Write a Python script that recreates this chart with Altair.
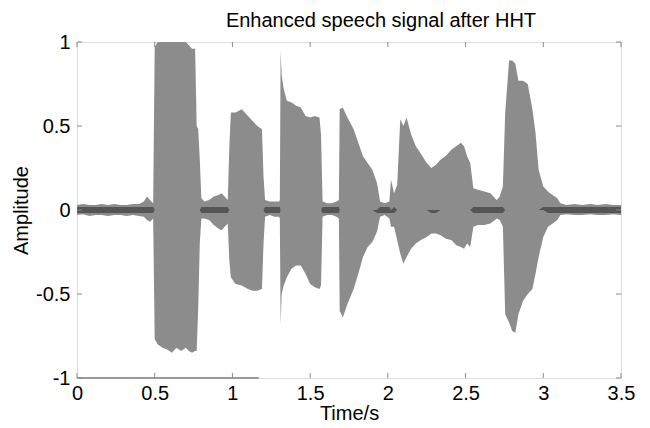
import altair as alt
import pandas as pd

# ---------------- data ----------------
title_text = "Enhanced speech signal after HHT"
x_title = "Time/s"
y_title = "Amplitude"

x_ticks = [0, 0.5, 1, 1.5, 2, 2.5, 3, 3.5]
y_ticks = [-1, -0.5, 0, 0.5, 1]

# envelope of the waveform: time (s), upper and lower amplitude
times = [
    0.00, 0.04, 0.08, 0.12, 0.16, 0.20, 0.24, 0.28, 0.32, 0.36, 0.40, 0.43, 0.45, 0.47, 0.49,
    0.50, 0.52, 0.55, 0.58, 0.61, 0.64, 0.67, 0.70, 0.72, 0.74, 0.76, 0.77, 0.78, 0.79, 0.80,
    0.82, 0.85, 0.88, 0.91, 0.93, 0.95, 0.97,
    0.98, 0.99, 1.02, 1.06, 1.10, 1.13, 1.16, 1.19, 1.20, 1.21,
    1.24, 1.27, 1.30, 1.305, 1.31, 1.317,
    1.33, 1.35, 1.38, 1.41, 1.44, 1.47, 1.50, 1.53, 1.56, 1.57, 1.58,
    1.61, 1.64, 1.67, 1.685,
    1.69, 1.71, 1.74, 1.78, 1.81, 1.84, 1.87, 1.90, 1.93, 1.95,
    1.98, 2.01, 2.02, 2.04, 2.06,
    2.08, 2.10, 2.12, 2.15, 2.18, 2.21, 2.25, 2.28, 2.31, 2.34, 2.37, 2.41, 2.44, 2.47, 2.49,
    2.51, 2.53, 2.55, 2.58, 2.62, 2.66, 2.70, 2.72, 2.74,
    2.755, 2.78, 2.80, 2.82, 2.84, 2.87, 2.90, 2.93, 2.95, 2.97, 3.00, 3.03, 3.06, 3.09, 3.11,
    3.15, 3.20, 3.25, 3.30, 3.35, 3.40, 3.45, 3.50,
]
upper = [
    0.030, 0.035, 0.030, 0.030, 0.035, 0.030, 0.035, 0.030, 0.030, 0.035, 0.035, 0.05, 0.08, 0.06, 0.04,
    0.97, 1.00, 1.00, 1.00, 1.00, 1.00, 1.00, 1.00, 0.98, 0.96, 0.96, 0.50, 0.48, 0.30, 0.07,
    0.05, 0.06, 0.08, 0.09, 0.10, 0.08, 0.06,
    0.37, 0.58, 0.58, 0.60, 0.56, 0.53, 0.50, 0.48, 0.20, 0.06,
    0.05, 0.05, 0.05, 0.06, 0.95, 0.80,
    0.72, 0.65, 0.64, 0.62, 0.61, 0.56, 0.55, 0.56, 0.55, 0.45, 0.05,
    0.04, 0.04, 0.05, 0.06,
    0.60, 0.61, 0.55, 0.48, 0.40, 0.32, 0.28, 0.24, 0.16, 0.05,
    0.04, 0.05, 0.18, 0.10, 0.15,
    0.54, 0.50, 0.55, 0.45, 0.38, 0.34, 0.28, 0.25, 0.27, 0.30, 0.32, 0.36, 0.38, 0.40, 0.38,
    0.32, 0.28, 0.13, 0.12, 0.11, 0.10, 0.06, 0.08, 0.14,
    0.58, 0.89, 0.89, 0.87, 0.77, 0.77, 0.75, 0.60, 0.46, 0.24, 0.14, 0.11, 0.09, 0.07, 0.04,
    0.030, 0.035, 0.030, 0.035, 0.030, 0.035, 0.030, 0.030,
]
lower = [
    -0.030, -0.025, -0.035, -0.030, -0.030, -0.035, -0.030, -0.030, -0.035, -0.030, -0.035, -0.04, -0.06, -0.07, -0.05,
    -0.77, -0.80, -0.82, -0.83, -0.85, -0.82, -0.84, -0.82, -0.84, -0.85, -0.84, -0.84, -0.58, -0.20, -0.05,
    -0.05, -0.06, -0.09, -0.11, -0.12, -0.10, -0.08,
    -0.30, -0.40, -0.44, -0.45, -0.47, -0.48, -0.48, -0.47, -0.20, -0.04,
    -0.03, -0.04, -0.04, -0.05, -0.68, -0.50,
    -0.45, -0.40, -0.35, -0.33, -0.33, -0.38, -0.44, -0.46, -0.47, -0.45, -0.04,
    -0.03, -0.03, -0.04, -0.05,
    -0.60, -0.64, -0.56, -0.47, -0.38, -0.28, -0.22, -0.19, -0.13, -0.04,
    -0.03, -0.05, -0.10, -0.10, -0.18,
    -0.26, -0.32, -0.28, -0.23, -0.20, -0.18, -0.16, -0.14, -0.14, -0.15, -0.17, -0.18, -0.21, -0.22, -0.23,
    -0.20, -0.22, -0.10, -0.09, -0.09, -0.08, -0.05, -0.06, -0.10,
    -0.62, -0.67, -0.72, -0.73, -0.62, -0.54, -0.50, -0.47, -0.38, -0.28, -0.16, -0.10, -0.08, -0.06, -0.03,
    -0.025, -0.030, -0.030, -0.025, -0.030, -0.030, -0.025, -0.030,
]

# faint trace lying on the lower border (start, end in seconds, amplitude)
border_trace_t = [0.0, 1.17]
border_trace_y = [-1.0, -1.0]

# ---------------- chart ----------------
W, H = 544, 336
FONT = "Liberation Sans"
FRAME = "#8a8a8a"

df = pd.DataFrame({"t": times, "hi": upper, "lo": lower})
xs = alt.Scale(domain=[0, 3.5], nice=False, zero=False)
ys = alt.Scale(domain=[-1, 1], nice=False, zero=False)

x_axis = alt.Axis(
    values=x_ticks, title=x_title, labelExpr="'' + datum.value", ticks=False, tickSize=0,
    domain=False, grid=False, labelFlush=False, labelOverlap=False, labelPadding=5,
    labelFont=FONT, labelFontSize=20, labelColor="black",
    titleFont=FONT, titleFontSize=20, titleFontWeight="normal", titleColor="black",
    titlePadding=0,
)
y_axis = alt.Axis(
    values=y_ticks, title=y_title, labelExpr="'' + datum.value", ticks=False, tickSize=0,
    domain=False, grid=False, labelOverlap=False, labelPadding=7,
    labelFont=FONT, labelFontSize=20, labelColor="black",
    titleFont=FONT, titleFontSize=20, titleFontWeight="normal", titleColor="black",
    titlePadding=4,
)


def X(field):
    return alt.X(field, scale=xs, axis=x_axis, title=x_title)


def Y(field):
    return alt.Y(field, scale=ys, axis=y_axis, title=y_title)


wave = alt.Chart(df).mark_area(color="#8c8c8c", opacity=1, interpolate="linear").encode(
    x=X("t:Q"), y=Y("hi:Q"), y2="lo:Q",
)

band = alt.Chart(df).transform_calculate(
    dh="datum.hi < 0.15 ? min(datum.hi, 0.018) : 0",
    dl="datum.lo > -0.15 ? max(datum.lo, -0.018) : 0",
).mark_area(color="#555555", opacity=1).encode(
    x=X("t:Q"), y=Y("dh:Q"), y2="dl:Q",
)

trace = alt.Chart(pd.DataFrame({"t": border_trace_t[:1], "t2": border_trace_t[1:], "y": border_trace_y[:1]})).mark_rule(
    color="#9a9a9a", strokeWidth=2
).encode(x=X("t:Q"), x2="t2:Q", y=Y("y:Q"))

xt = pd.DataFrame({"v": x_ticks})
yt = pd.DataFrame({"v": y_ticks})
tick_bottom = alt.Chart(xt).mark_rule(color=FRAME, strokeWidth=1).encode(
    x=X("v:Q"), y=alt.value(H), y2=alt.value(H - 5))
tick_top = alt.Chart(xt).mark_rule(color=FRAME, strokeWidth=1).encode(
    x=X("v:Q"), y=alt.value(0), y2=alt.value(5))
tick_left = alt.Chart(yt).mark_rule(color=FRAME, strokeWidth=1).encode(
    y=Y("v:Q"), x=alt.value(0), x2=alt.value(5))
tick_right = alt.Chart(yt).mark_rule(color=FRAME, strokeWidth=1).encode(
    y=Y("v:Q"), x=alt.value(W), x2=alt.value(W - 5))

chart = alt.layer(wave, band, trace, tick_bottom, tick_top, tick_left, tick_right).properties(
    width=W,
    height=H,
    title=alt.TitleParams(
        text=title_text, font=FONT, fontSize=20, fontWeight="normal", color="black",
        anchor="middle", dx=32, offset=1,
    ),
    autosize=alt.AutoSizeParams(type="none"),
    padding={"left": 69, "top": 34, "right": 16, "bottom": 52},
).configure_view(stroke=FRAME, strokeWidth=1).configure(background="white")

chart.save("out.html", embed_options={"renderer": "svg", "actions": False})
